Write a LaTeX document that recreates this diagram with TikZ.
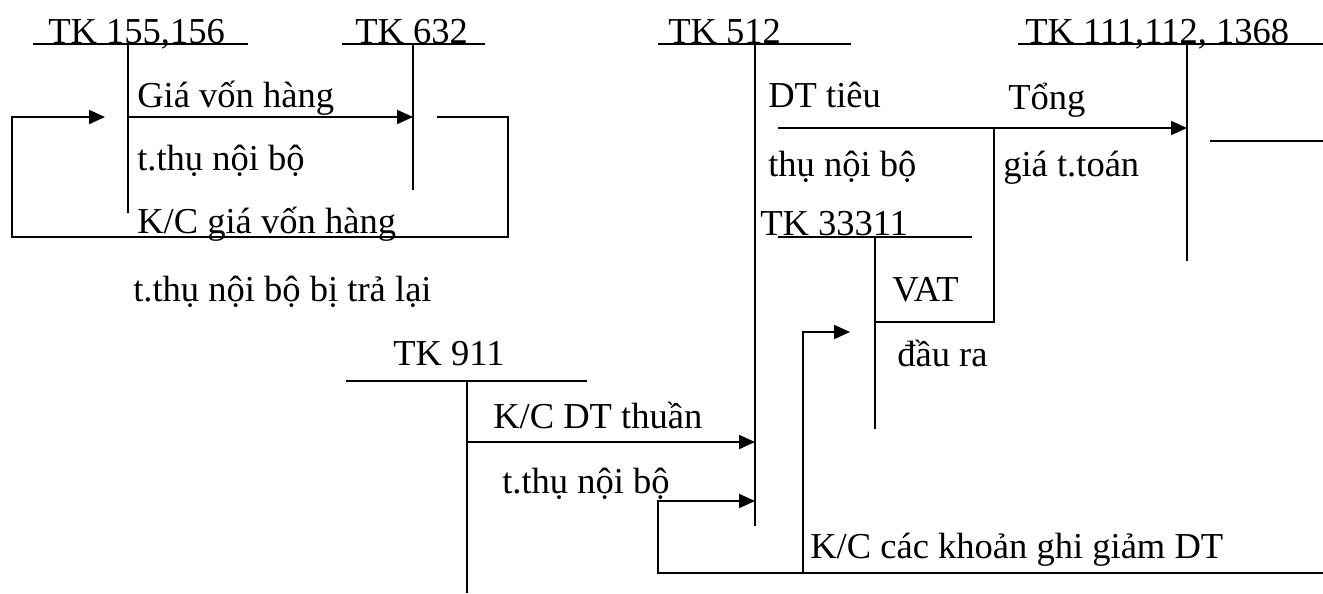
\documentclass[tikz,border=0pt]{standalone}
\usepackage{fontspec}
\setmainfont{Liberation Serif}
\usetikzlibrary{arrows.meta}
\begin{document}
\begin{tikzpicture}[x=0.75pt,y=-0.75pt,
  lbl/.style={anchor=base west,inner sep=0pt,font=\fontsize{27.4}{32}\selectfont},
  ln/.style={line width=1.5pt},
  arr/.style={ln,-{Triangle[length=12pt,width=10.5pt]}}]
\useasboundingbox (0,0) rectangle (1323,593);

% ---- TK 155,156
\node[lbl] (t155) at (48,43) {TK 155,156};
\coordinate (a1l) at (33,44); \coordinate (a1r) at (248,44);
\coordinate (a1t) at (128,44); \coordinate (a1b) at (128,213);
\draw[ln] (a1l) -- (a1r); \draw[ln] (a1t) -- (a1b);

% ---- TK 632
\node[lbl] (t632) at (355,43) {TK 632};
\coordinate (a2l) at (342,44); \coordinate (a2r) at (485,44);
\coordinate (a2t) at (413,44); \coordinate (a2b) at (413,190);
\draw[ln] (a2l) -- (a2r); \draw[ln] (a2t) -- (a2b);

% arrow 155 -> 632
\coordinate (g1s) at (128,117); \coordinate (g1e) at (413,117);
\draw[arr] (g1s) -- (g1e);
\node[lbl] (lg1) at (137,107) {Giá vốn hàng};
\node[lbl] (lg2) at (137,170) {t.thụ nội bộ};

% return loop 632 -> 155
\coordinate (r1) at (437,117); \coordinate (r2) at (508,117);
\coordinate (r3) at (508,237); \coordinate (r4) at (12,237);
\coordinate (r5) at (12,117); \coordinate (r6) at (105,117);
\draw[arr] (r1) -- (r2) -- (r3) -- (r4) -- (r5) -- (r6);
\node[lbl] (lr1) at (137,233) {K/C giá vốn hàng};
\node[lbl] (lr2) at (133,301) {t.thụ nội bộ bị trả lại};

% ---- TK 512
\node[lbl] (t512) at (668,43) {TK 512};
\coordinate (a3l) at (658,44); \coordinate (a3r) at (851,44);
\coordinate (a3t) at (755,44); \coordinate (a3b) at (755,526);
\draw[ln] (a3l) -- (a3r); \draw[ln] (a3t) -- (a3b);

% ---- TK 111,112,1368
\node[lbl] (t111) at (1025,43) {TK 111,112, 1368};
\coordinate (a4l) at (1018,44); \coordinate (a4r) at (1323,44);
\coordinate (a4t) at (1187,44); \coordinate (a4b) at (1187,261);
\draw[ln] (a4l) -- (a4r); \draw[ln] (a4t) -- (a4b);
\coordinate (s1) at (1210,141); \coordinate (s2) at (1323,141);
\draw[ln] (s1) -- (s2);

% arrow 512 -> 111
\coordinate (d1s) at (778,128); \coordinate (d1e) at (1187,128);
\draw[arr] (d1s) -- (d1e);
\node[lbl] (ld1) at (768,107) {DT tiêu};
\node[lbl] (ld2) at (768,176) {thụ nội bộ};
\node[lbl] (ld3) at (1008,109) {Tổng};
\node[lbl] (ld4) at (1003,176) {giá t.toán};

% ---- TK 33311
\node[lbl] (t333) at (760,235) {TK 33311};
\coordinate (a5l) at (778,237); \coordinate (a5r) at (972,237);
\coordinate (a5t) at (875,237); \coordinate (a5b) at (875,429);
\draw[ln] (a5l) -- (a5r); \draw[ln] (a5t) -- (a5b);

% VAT branch
\coordinate (b1) at (994,128); \coordinate (b2) at (994,322); \coordinate (b3) at (875,322);
\draw[ln] (b1) -- (b2) -- (b3);
\node[lbl] (lv1) at (892,301) {VAT};
\node[lbl] (lv2) at (897,366) {đầu ra};

% ---- TK 911
\node[lbl] (t911) at (393,365) {TK 911};
\coordinate (a6l) at (346,381); \coordinate (a6r) at (587,381);
\coordinate (a6t) at (467,381); \coordinate (a6b) at (467,593);
\draw[ln] (a6l) -- (a6r); \draw[ln] (a6t) -- (a6b);

% K/C DT thuan
\coordinate (k1s) at (467,442); \coordinate (k1e) at (755,442);
\draw[arr] (k1s) -- (k1e);
\node[lbl] (lk1) at (493,428) {K/C DT thuần};
\node[lbl] (lk2) at (502,493) {t.thụ nội bộ};

% K/C cac khoan ghi giam DT
\coordinate (m1) at (1323,573); \coordinate (m2) at (658,573);
\coordinate (m3) at (658,501); \coordinate (m4) at (755,501);
\draw[arr] (m1) -- (m2) -- (m3) -- (m4);
\coordinate (n1) at (803,573); \coordinate (n2) at (803,332); \coordinate (n3) at (850,332);
\draw[arr] (n1) -- (n2) -- (n3);
\node[lbl] (lm1) at (810,558) {K/C các khoản ghi giảm DT};
\end{tikzpicture}
\end{document}
